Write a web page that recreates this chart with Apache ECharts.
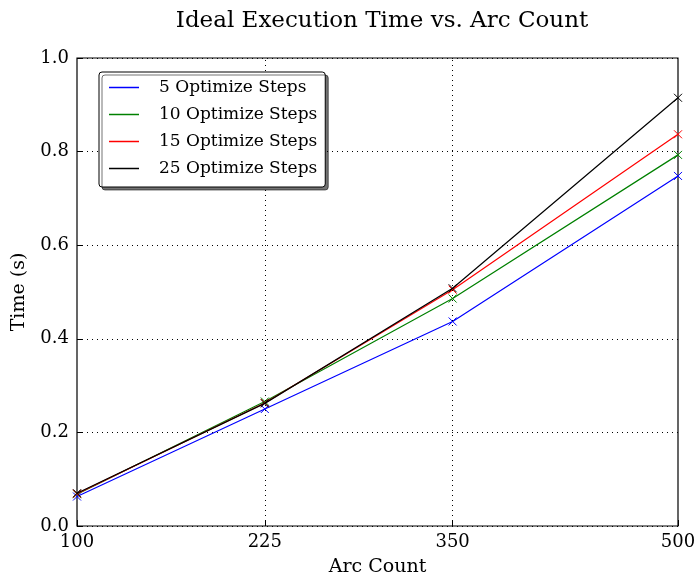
<!DOCTYPE html>
<html><head><meta charset="utf-8">
<script src="https://cdn.jsdelivr.net/npm/echarts@6/dist/echarts.min.js"></script>
<style>html,body{margin:0;padding:0;background:#fff}#c{width:696px;height:579px}</style>
</head><body><div id="c"></div>
<script>
const arcCounts = [100, 225, 350, 500];
const xTicks = [100, 225, 350, 500];
const seriesNames = ['5 Optimize Steps', '10 Optimize Steps', '15 Optimize Steps', '25 Optimize Steps'];
const steps5  = [0.063, 0.250, 0.437, 0.748];
const steps10 = [0.068, 0.266, 0.486, 0.793];
const steps15 = [0.069, 0.263, 0.505, 0.837];
const steps25 = [0.070, 0.262, 0.508, 0.915];
const colors = ['#0000ff', '#008000', '#ff0000', '#000000'];
const font = '"DejaVu Serif", "Liberation Serif", serif';

const chart = echarts.init(document.getElementById('c'));
const allData = [steps5, steps10, steps15, steps25];
const crossPath = 'path://M0,0L10,10M10,0L0,10';
const series = allData.map((d, i) => ({
  name: seriesNames[i],
  type: 'line',
  data: arcCounts.map((x, j) => [x, d[j]]),
  symbol: crossPath,
  symbolSize: 8,
  lineStyle: { color: colors[i], width: 1.2 },
  itemStyle: { color: 'none', borderColor: colors[i], borderWidth: 1 },
  z: 2 + i,
  animation: false
}));
series[0].markLine = {
  silent: true, symbol: 'none', animation: false,
  label: { show: false },
  lineStyle: { color: '#000', type: [1, 4], width: 1 },
  data: [{ xAxis: 225 }, { xAxis: 350 }]
};
chart.setOption({
  animation: false,
  title: {
    text: 'Ideal Execution Time vs. Arc Count',
    left: 377, top: 5, textAlign: 'center',
    textStyle: { fontFamily: font, fontSize: 23, fontWeight: 'normal', color: '#000' }
  },
  legend: {
    left: 99, top: 72, orient: 'vertical', z: 50,
    data: seriesNames.map((n, i) => ({ name: n, icon: 'rect', itemStyle: { color: colors[i], borderWidth: 0 } })),
    itemWidth: 30, itemHeight: 1.5, itemGap: 10,
    padding: [7, 8, 10, 10],
    borderColor: '#000', borderWidth: 1, borderRadius: 3,
    backgroundColor: '#fff',
    shadowColor: 'rgba(0,0,0,0.55)', shadowOffsetX: 3, shadowOffsetY: 3, shadowBlur: 0,
    textStyle: { fontFamily: font, fontSize: 17, color: '#000', padding: [0, 0, 0, 15] }
  },
  grid: { left: 77, right: 18, top: 58, bottom: 53, outerBoundsMode: 'none', containLabel: false, show: true, borderColor: '#000', borderWidth: 1.2, backgroundColor: 'transparent' },
  xAxis: {
    type: 'value', min: 100, max: 500,
    name: 'Arc Count', nameLocation: 'middle', nameGap: 32,
    nameTextStyle: { fontFamily: font, fontSize: 19, color: '#000' },
    axisLine: { show: false },
    axisTick: { show: true, inside: true, length: 6, customValues: xTicks, lineStyle: { color: '#000' } },
    axisLabel: { customValues: xTicks, fontFamily: font, fontSize: 18, color: '#000', margin: 7 },
    splitLine: { show: false }
  },
  yAxis: {
    type: 'value', min: 0, max: 1, interval: 0.2,
    name: 'Time (s)', nameLocation: 'middle', nameGap: 48, nameRotate: 90,
    nameTextStyle: { fontFamily: font, fontSize: 19, color: '#000' },
    axisLine: { show: false },
    axisTick: { show: true, inside: true, length: 6, lineStyle: { color: '#000' } },
    axisLabel: { fontFamily: font, fontSize: 18, color: '#000', margin: 8, formatter: v => v.toFixed(1) },
    splitLine: { show: true, lineStyle: { color: '#000', type: [1, 4], width: 1 } }
  },
  series: series
});
</script></body></html>
